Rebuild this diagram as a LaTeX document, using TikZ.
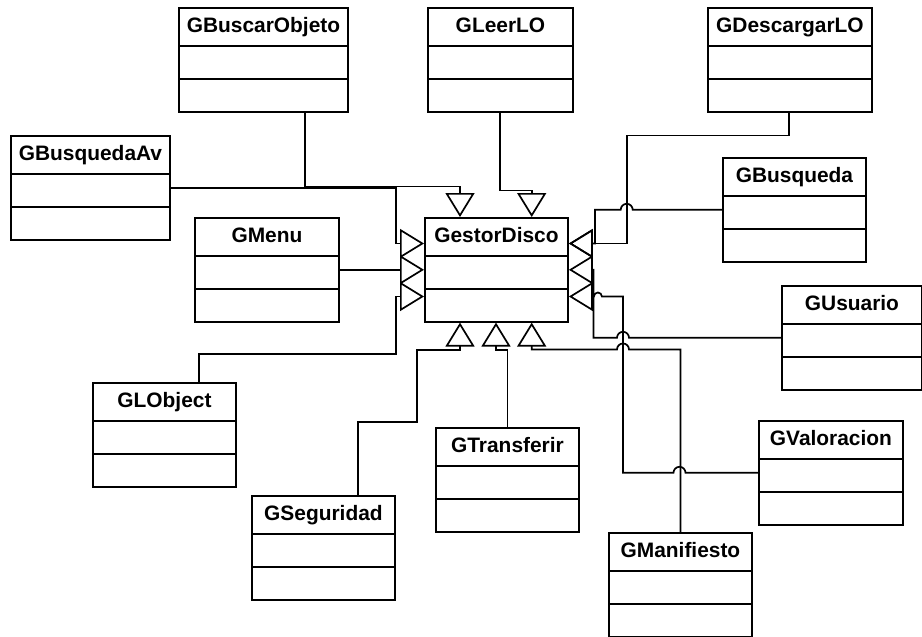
\documentclass[tikz,border=0pt]{standalone}
\usepackage{fontspec}
\setmainfont{Liberation Sans}
\usepackage{tikz}
\usetikzlibrary{arrows.meta,shapes.multipart,calc}

\newcommand{\umlcls}[1]{\rule[-6pt]{0pt}{18pt}#1\nodepart{two}\rule{0pt}{15.5pt}\nodepart{three}\rule{0pt}{15.5pt}}
\newcommand{\hopl}{arc[start angle=0,end angle=180,radius=3pt]}
\newcommand{\hops}{arc[start angle=0,end angle=180,radius=2pt]}

\begin{document}
\begin{tikzpicture}[x=0.5pt,y=-0.5pt,line width=0.85pt,
  clase/.style={draw,line width=0.95pt,rectangle split,rectangle split parts=3,
    inner xsep=2pt,inner ysep=0pt,anchor=north west,
    font=\bfseries\fontsize{10.45}{12}\selectfont},
  hereda/.style={-{Triangle[open,length=12pt,width=14.5pt]}}]
  \useasboundingbox (0,0) rectangle (922,637);

  % clases
  \node[clase,minimum width=84.5pt] (bo) at (178,7) {\umlcls{GBuscarObjeto}};
  \node[clase,minimum width=72.5pt] (lo) at (427,7) {\umlcls{GLeerLO}};
  \node[clase,minimum width=82pt] (dl) at (707,7) {\umlcls{GDescargarLO}};
  \node[clase,minimum width=79.5pt] (bav) at (10,135) {\umlcls{GBusquedaAv}};
  \node[clase,minimum width=71.5pt] (bq) at (722,157) {\umlcls{GBusqueda}};
  \node[clase,minimum width=72pt] (gm) at (194,217) {\umlcls{GMenu}};
  \node[clase,minimum width=71.5pt] (gd) at (424,217) {\umlcls{GestorDisco}};
  \node[clase,minimum width=70pt] (gu) at (781,285) {\umlcls{GUsuario}};
  \node[clase,minimum width=71.5pt] (glo) at (92,382) {\umlcls{GLObject}};
  \node[clase,minimum width=72pt] (gv) at (758,420) {\umlcls{GValoracion}};
  \node[clase,minimum width=71.5pt] (gt) at (435,427) {\umlcls{GTransferir}};
  \node[clase,minimum width=71.5pt] (gs) at (251,495) {\umlcls{GSeguridad}};
  \node[clase,minimum width=71.5pt] (gma) at (608,532) {\umlcls{GManifiesto}};

  % puntos de llegada en GestorDisco
  \coordinate (gd-t1) at ($(gd.north west)+(36,0)$);
  \coordinate (gd-t2) at ($(gd.north west)+(107.7,0)$);
  \coordinate (gd-l1) at ($(gd.north west)+(0,26.5)$);
  \coordinate (gd-l3) at ($(gd.north west)+(0,79.5)$);
  \coordinate (gd-r1) at ($(gd.north east)+(0,26.5)$);
  \coordinate (gd-r3) at ($(gd.north east)+(0,79.5)$);
  \coordinate (gd-b1) at ($(gd.south west)+(36,0)$);
  \coordinate (gd-b2) at ($(gd.south west)+(72,0)$);
  \coordinate (gd-b3) at ($(gd.south west)+(107.7,0)$);

  % herencias
  \draw[hereda] ($(bo.south west)+(127,0)$) -- ++(0,74) -| (gd-t1);
  \draw[hereda] ($(lo.south west)+(73,0)$) -- ++(0,78) -| (gd-t2);
  \draw[hereda] (bav.east) -| (396,243.5) -- (gd-l1);
  \draw[hereda] (gm.east) -- (gd.west);
  \draw[hereda] ($(glo.north west)+(107,0)$) -- ++(0,-28) -| (396,296.5) -- (gd-l3);
  \draw[hereda] ($(dl.south west)+(82,0)$) -- ++(0,23) -| (626.7,243.5) -- (gd-r1);
  \draw[hereda] (bq.west) -- ++(-89.3,0) \hopl -- ++(-25.7,0) |- (gd-r1);
  \draw[hereda] (gu.west) -- ++(-152,0) \hopl -- ++(-23.5,0) |- (gd.east);
  \draw[hereda] (gv.west) -- ++(-72.5,0) \hopl -- ++(-50.5,0) |- ($(gd-r3)+(33,0)$) \hops -- (gd-r3);
  \draw[hereda] (gma.north) |- (629,349.5) \hopl -| (gd-b3);
  \draw[hereda] (gt.north) -- ++(0,-77) -| (gd-b2);
  \draw[hereda] ($(gs.north west)+(107,0)$) -- ++(0,-73) -| (416.7,350) -| (gd-b1);
\end{tikzpicture}
\end{document}
